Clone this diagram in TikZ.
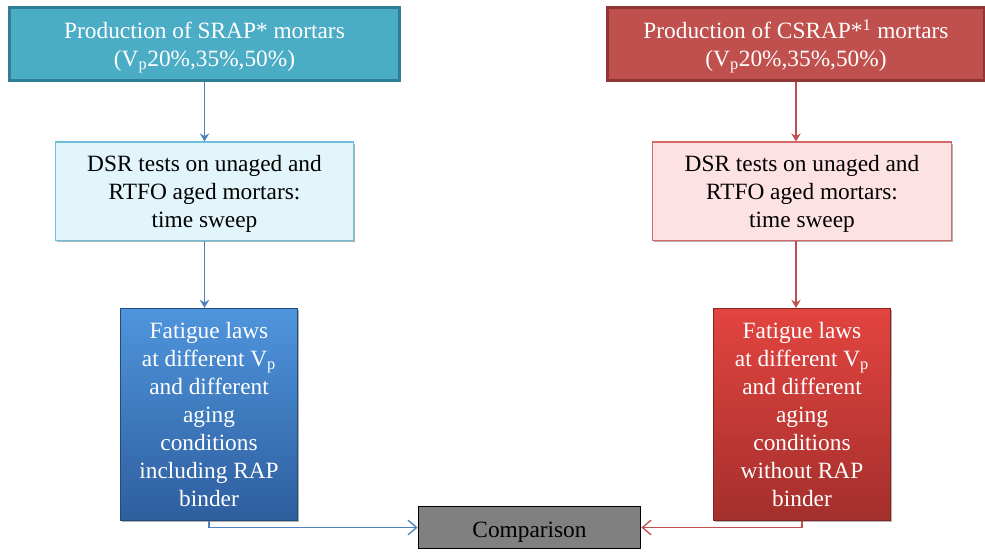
\documentclass[tikz,border=0pt]{standalone}
\usepackage{fontspec}
\setmainfont{Liberation Serif}
\usepackage{xcolor}
\usetikzlibrary{arrows,arrows.meta,positioning,shadows}
\definecolor{tealF}{HTML}{4BACC6}
\definecolor{tealD}{HTML}{2F7F94}
\definecolor{tealL}{HTML}{E2F5FB}
\definecolor{tealB}{HTML}{6EC0DA}
\definecolor{rosF}{HTML}{C0504D}
\definecolor{rosD}{HTML}{8E3634}
\definecolor{rosL}{HTML}{FDE2E4}
\definecolor{rosB}{HTML}{D46A68}
\definecolor{bluT}{HTML}{4F95DD}
\definecolor{bluB}{HTML}{2E5E9E}
\definecolor{redT}{HTML}{E3443F}
\definecolor{redB}{HTML}{A42F2C}
\definecolor{bluA}{HTML}{4F81BD}
\definecolor{redA}{HTML}{C0504D}
\definecolor{cmpF}{HTML}{808080}
\newcommand{\lift}[1]{\rule{0pt}{#1}}
\tikzset{
  box/.style    ={rectangle, align=center, inner sep=2pt,
                  font=\fontsize{17.5}{21}\selectfont},
  shd/.style    ={drop shadow={shadow xshift=1pt, shadow yshift=-1.2pt,
                  opacity=.3, fill=black}},
  headB/.style  ={box, fill=tealF, draw=tealD, line width=2.2pt, text=white,
                  minimum width=293pt, minimum height=55pt},
  headR/.style  ={box, fill=rosF, draw=rosD, line width=2.2pt, text=white,
                  minimum width=283pt, minimum height=55pt},
  testB/.style  ={box, shd, fill=tealL, draw=tealB, line width=.8pt,
                  minimum width=224pt, minimum height=74pt},
  testR/.style  ={box, shd, fill=rosL, draw=rosB, line width=.8pt,
                  minimum width=224pt, minimum height=74pt},
  lawB/.style   ={box, shd, top color=bluT, bottom color=bluB, draw=bluB!80!black,
                  line width=.6pt, text=white, minimum width=133pt, minimum height=159pt},
  lawR/.style   ={box, shd, top color=redT, bottom color=redB, draw=redB!80!black,
                  line width=.6pt, text=white, minimum width=133pt, minimum height=159pt},
  cmpbox/.style ={box, fill=cmpF, draw=black, line width=.8pt,
                  minimum width=167pt, minimum height=32pt},
  flowB/.style  ={->,>={Stealth[length=6pt,width=7pt]}, line width=1pt, draw=bluA},
  flowR/.style  ={->,>={Stealth[length=6pt,width=7pt]}, line width=1pt, draw=redA},
  joinB/.style  ={->,>={Straight Barb[length=6.5pt,width=11pt]}, line width=1pt, draw=bluA},
  joinR/.style  ={->,>={Straight Barb[length=6.5pt,width=11pt]}, line width=1pt, draw=redA},
}
\begin{document}
\begin{tikzpicture}[x=0.75pt, y=-0.75pt]
  \useasboundingbox (0,0) rectangle (985,551);
  % SRAP branch
  \node[headB](srap) at (204.5,44){\lift{18pt}Production of SRAP* mortars\\(V\textsubscript{p}20\%,35\%,50\%)};
  \node[testB, below=44.5pt of srap](dsrB){\lift{16.5pt}DSR tests on unaged and\\RTFO aged mortars:\\time sweep};
  \node[lawB, below=50pt of dsrB, xshift=3.4pt](lawsB){Fatigue laws\\ at different V\textsubscript{p}\\and different\\aging\\conditions\\including RAP\\binder};
  % CSRAP branch
  \node[headR](csrap) at (796,44){\lift{18pt}Production of CSRAP*\textsuperscript{1} mortars\\(V\textsubscript{p}20\%,35\%,50\%)};
  \node[testR, below=44.5pt of csrap, xshift=4.5pt](dsrR){\lift{16.5pt}DSR tests on unaged and\\RTFO aged mortars:\\time sweep};
  \node[lawR, below=50pt of dsrR](lawsR){Fatigue laws\\ at different V\textsubscript{p}\\and different\\aging\\conditions\\without RAP\\binder};
  \node[cmpbox](cmp) at (529.5,527.5){\lift{18pt}Comparison};
  \draw[flowB](srap)--(dsrB);
  \draw[flowB](dsrB.south)--(dsrB.south |- lawsB.north);
  \draw[flowR](csrap.south)--(csrap.south |- dsrR.north);
  \draw[flowR](csrap.south |- dsrR.south)--(csrap.south |- lawsR.north);
  % joins into comparison
  \draw[joinB](lawsB.south)|-(cmp.west);
  \draw[joinR](lawsR.south)|-(cmp.east);
\end{tikzpicture}
\end{document}
